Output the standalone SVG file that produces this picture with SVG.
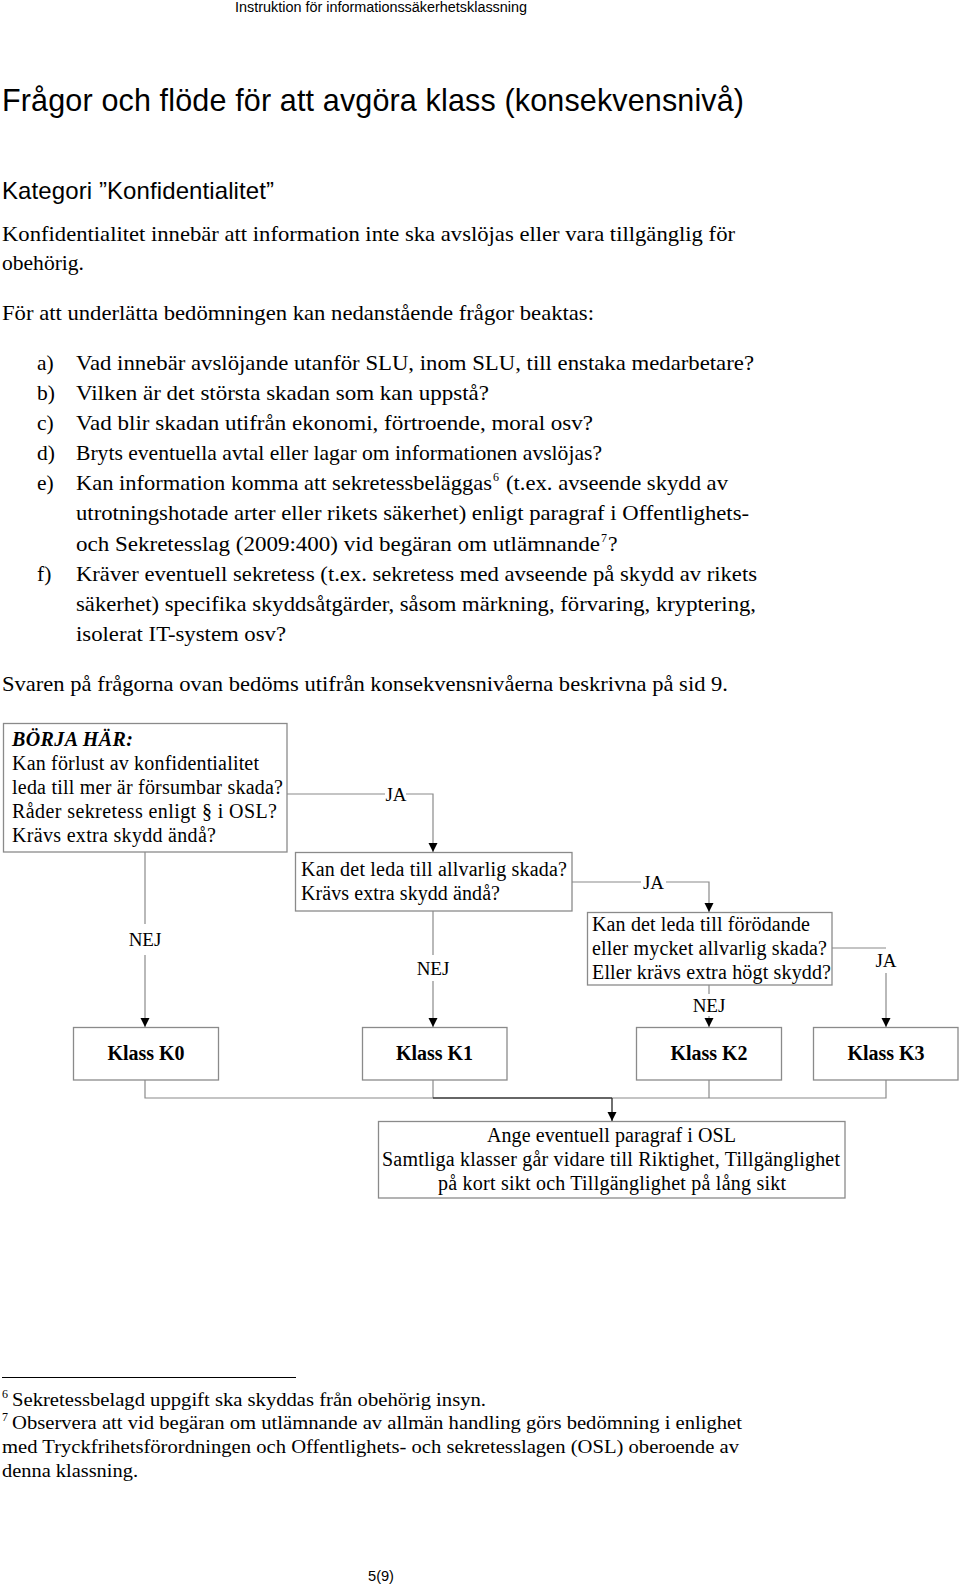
<svg xmlns="http://www.w3.org/2000/svg" width="960" height="1587" viewBox="0 0 960 1587">
<style>
.sans{font-family:"Liberation Sans",Arial,sans-serif;fill:#000}
.serif{font-family:"Liberation Serif","Times New Roman",serif;fill:#000}
.b20{font-size:20px}
.b21{font-size:21.5px}
.f18{font-size:19.5px}
.sup{font-size:12px}
.box{fill:#fff;stroke:#8a8a8a;stroke-width:1.3}
.conn{fill:none;stroke:#8a8a8a;stroke-width:1.2}
.dark{fill:none;stroke:#333;stroke-width:1.4}
.lbl{font-size:19px}
.klass{font-size:20px;font-weight:bold;text-anchor:middle}
.mid{text-anchor:middle}
</style>
<defs>
<marker id="arr" markerUnits="userSpaceOnUse" markerWidth="9" markerHeight="10" refX="9" refY="4.5" orient="auto">
<path d="M0,0 L9,4.5 L0,9 z" fill="#000"/>
</marker>
</defs>
<rect x="0" y="0" width="960" height="1587" fill="#fff"/>

<text class="sans" x="235" y="12" font-size="14" textLength="292" lengthAdjust="spacingAndGlyphs">Instruktion för informationssäkerhetsklassning</text>
<text class="sans" x="2" y="111" font-size="30.5" textLength="742">Frågor och flöde för att avgöra klass (konsekvensnivå)</text>
<text class="sans" x="2" y="199" font-size="24" textLength="272">Kategori ”Konfidentialitet”</text>

<g class="serif b21">
<text x="2" y="241" textLength="733" lengthAdjust="spacingAndGlyphs">Konfidentialitet innebär att information inte ska avslöjas eller vara tillgänglig för</text>
<text x="2" y="270" textLength="82" lengthAdjust="spacingAndGlyphs">obehörig.</text>
<text x="2" y="320" textLength="592" lengthAdjust="spacingAndGlyphs">För att underlätta bedömningen kan nedanstående frågor beaktas:</text>
<text x="37" y="370">a)</text>
<text x="76" y="370" textLength="678" lengthAdjust="spacingAndGlyphs">Vad innebär avslöjande utanför SLU, inom SLU, till enstaka medarbetare?</text>
<text x="37" y="400">b)</text>
<text x="76" y="400" textLength="413" lengthAdjust="spacingAndGlyphs">Vilken är det största skadan som kan uppstå?</text>
<text x="37" y="430">c)</text>
<text x="76" y="430" textLength="517" lengthAdjust="spacingAndGlyphs">Vad blir skadan utifrån ekonomi, förtroende, moral osv?</text>
<text x="37" y="460">d)</text>
<text x="76" y="460" textLength="526" lengthAdjust="spacingAndGlyphs">Bryts eventuella avtal eller lagar om informationen avslöjas?</text>
<text x="37" y="490">e)</text>
<text x="76" y="490" textLength="416" lengthAdjust="spacingAndGlyphs">Kan information komma att sekretessbeläggas</text>
<text class="sup" x="493" y="481">6</text>
<text x="506" y="490" textLength="222" lengthAdjust="spacingAndGlyphs">(t.ex. avseende skydd av</text>
<text x="76" y="520" textLength="673" lengthAdjust="spacingAndGlyphs">utrotningshotade arter eller rikets säkerhet) enligt paragraf i Offentlighets-</text>
<text x="76" y="551" textLength="524" lengthAdjust="spacingAndGlyphs">och Sekretesslag (2009:400) vid begäran om utlämnande</text>
<text class="sup" x="601" y="542">7</text>
<text x="608" y="551">?</text>
<text x="37" y="581">f)</text>
<text x="76" y="581" textLength="681" lengthAdjust="spacingAndGlyphs">Kräver eventuell sekretess (t.ex. sekretess med avseende på skydd av rikets</text>
<text x="76" y="611" textLength="680" lengthAdjust="spacingAndGlyphs">säkerhet) specifika skyddsåtgärder, såsom märkning, förvaring, kryptering,</text>
<text x="76" y="641" textLength="210" lengthAdjust="spacingAndGlyphs">isolerat IT-system osv?</text>
<text x="2" y="691" textLength="726" lengthAdjust="spacingAndGlyphs">Svaren på frågorna ovan bedöms utifrån konsekvensnivåerna beskrivna på sid 9.</text>
</g>

<g id="connectors">
<polyline class="conn" points="287,794 385,794"/>
<polyline class="conn" points="406,794 433,794 433,852" marker-end="url(#arr)"/>
<text class="serif lbl mid" x="396" y="801">JA</text>
<polyline class="conn" points="572,882 641,882"/>
<polyline class="conn" points="666,882 709,882 709,912" marker-end="url(#arr)"/>
<text class="serif lbl mid" x="653.5" y="889">JA</text>
<polyline class="conn" points="832,948 886,948"/>
<text class="serif lbl mid" x="886" y="967">JA</text>
<polyline class="conn" points="886,973 886,1027" marker-end="url(#arr)"/>
<polyline class="conn" points="145,852 145,924"/>
<text class="serif lbl mid" x="145" y="946">NEJ</text>
<polyline class="conn" points="145,955 145,1027" marker-end="url(#arr)"/>
<polyline class="conn" points="433,911 433,955"/>
<text class="serif lbl mid" x="433" y="975">NEJ</text>
<polyline class="conn" points="433,981 433,1027" marker-end="url(#arr)"/>
<polyline class="conn" points="709,985 709,994"/>
<text class="serif lbl mid" x="709" y="1012">NEJ</text>
<polyline class="conn" points="709,1016 709,1027" marker-end="url(#arr)"/>
<polyline class="conn" points="145,1080 145,1098 433,1098"/>
<polyline class="conn" points="433,1080 433,1098"/>
<polyline class="conn" points="612,1098 886,1098 886,1080"/>
<polyline class="conn" points="709,1080 709,1098"/>
<polyline class="dark" points="433,1098 612,1098"/>
<polyline class="dark" points="612,1098 612,1121" marker-end="url(#arr)"/>
</g>

<g id="start">
<rect class="box" x="3.5" y="723.5" width="283.5" height="128.5"/>
<g class="serif b20">
<text x="12" y="746" font-weight="bold" font-style="italic" textLength="121">BÖRJA HÄR:</text>
<text x="12" y="770" textLength="247">Kan förlust av konfidentialitet</text>
<text x="12" y="794" textLength="271">leda till mer är försumbar skada?</text>
<text x="12" y="818" textLength="265">Råder sekretess enligt § i OSL?</text>
<text x="12" y="842" textLength="204">Krävs extra skydd ändå?</text>
</g>
</g>

<g id="q2">
<rect class="box" x="295.5" y="852.5" width="276.5" height="58.5"/>
<g class="serif b20">
<text x="301" y="876" textLength="266">Kan det leda till allvarlig skada?</text>
<text x="301" y="900" textLength="199">Krävs extra skydd ändå?</text>
</g>
</g>

<g id="q3">
<rect class="box" x="587.5" y="912.5" width="244.5" height="72.5"/>
<g class="serif b20">
<text x="592" y="931" textLength="218">Kan det leda till förödande</text>
<text x="592" y="955" textLength="235">eller mycket allvarlig skada?</text>
<text x="592" y="979" textLength="239">Eller krävs extra högt skydd?</text>
</g>
</g>

<g id="k0"><rect class="box" x="73.5" y="1027.5" width="145" height="52.5"/><text class="serif klass" x="146" y="1060">Klass K0</text></g>
<g id="k1"><rect class="box" x="362.5" y="1027.5" width="144.5" height="52.5"/><text class="serif klass" x="434.5" y="1060">Klass K1</text></g>
<g id="k2"><rect class="box" x="636.5" y="1027.5" width="145" height="52.5"/><text class="serif klass" x="709" y="1060">Klass K2</text></g>
<g id="k3"><rect class="box" x="813.5" y="1027.5" width="144.5" height="52.5"/><text class="serif klass" x="886" y="1060">Klass K3</text></g>

<g id="final">
<rect class="box" x="378.5" y="1121.5" width="466.5" height="76.5"/>
<g class="serif b20">
<text x="487" y="1142" textLength="249">Ange eventuell paragraf i OSL</text>
<text x="382" y="1166" textLength="458">Samtliga klasser går vidare till Riktighet, Tillgänglighet</text>
<text x="438" y="1190" textLength="348">på kort sikt och Tillgänglighet på lång sikt</text>
</g>
</g>

<line x1="2" y1="1377.5" x2="296" y2="1377.5" stroke="#000" stroke-width="1"/>
<g class="serif f18">
<text class="sup" x="2" y="1398" font-size="11">6</text>
<text x="12" y="1406" textLength="474" lengthAdjust="spacingAndGlyphs">Sekretessbelagd uppgift ska skyddas från obehörig insyn.</text>
<text class="sup" x="2" y="1421" font-size="11">7</text>
<text x="12" y="1429" textLength="730" lengthAdjust="spacingAndGlyphs">Observera att vid begäran om utlämnande av allmän handling görs bedömning i enlighet</text>
<text x="2" y="1453" textLength="737" lengthAdjust="spacingAndGlyphs">med Tryckfrihetsförordningen och Offentlighets- och sekretesslagen (OSL) oberoende av</text>
<text x="2" y="1477" textLength="136" lengthAdjust="spacingAndGlyphs">denna klassning.</text>
</g>
<text class="sans" x="368" y="1581" font-size="14" textLength="26" lengthAdjust="spacingAndGlyphs">5(9)</text>
</svg>
